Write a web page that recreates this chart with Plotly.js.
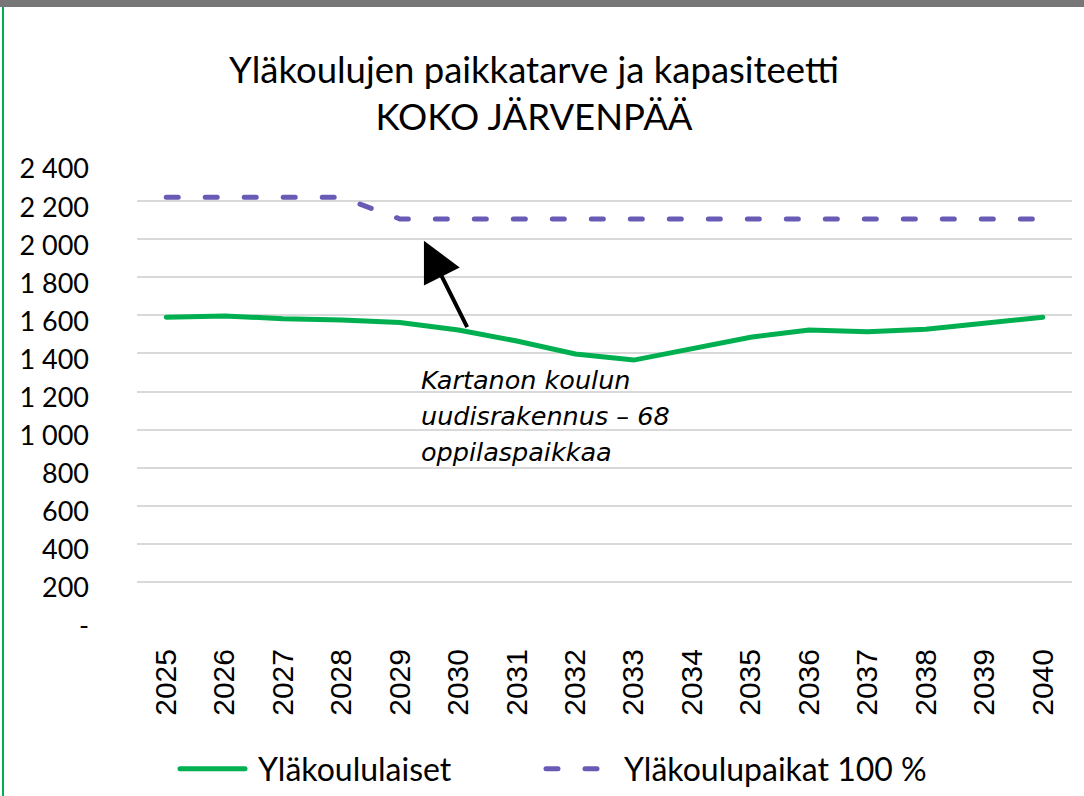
<!DOCTYPE html>
<html><head><meta charset="utf-8">
<script src="https://cdn.plot.ly/plotly-3.0.1.min.js"></script>
<style>
html,body{margin:0;padding:0;background:#fff;overflow:hidden}
#topbar{position:absolute;left:0;top:0;width:1084px;height:7px;background:#777777;z-index:5}
#leftline{position:absolute;left:2px;top:7px;width:2px;height:789px;background:#00B050;z-index:5}
#chart{position:absolute;left:0;top:0;width:1084px;height:796px}
.js-line{stroke-linecap:round}
.legend .legendtext{transform:translate(8px,0)}
.legend .scrollbox{clip-path:none !important}
</style></head>
<body><div id="topbar"></div><div id="leftline"></div><div id="chart"></div>
<script>
const years = ['2025','2026','2027','2028','2029','2030','2031','2032','2033','2034','2035','2036','2037','2038','2039','2040'];
const pupils = [1590,1597,1582,1576,1562,1523,1465,1397,1365,1423,1485,1523,1514,1527,1560,1590];
const places = [2220,2220,2220,2220,2106,2106,2106,2106,2106,2106,2106,2106,2106,2106,2106,2106];
const yTickVals = [0,200,400,600,800,1000,1200,1400,1600,1800,2000,2200,2400];
const yTickText = ['-','200','400','600','800','1 000','1 200','1 400','1 600','1 800','2 000','2 200','2 400'];
const noteLines = ['Kartanon koulun','uudisrakennus – 68','oppilaspaikkaa'];

const traces = [
  {x: years, y: pupils, type:'scatter', mode:'lines', name:'Yläkoululaiset',
   line:{color:'#00B050', width:5}},
  {x: years, y: places, type:'scatter', mode:'lines', name:'Yläkoulupaikat 100 %',
   line:{color:'#675BB5', width:5, dash:'12px,27px'}}
];

const noteY = [380, 416, 452];
const annotations = noteLines.map((t,i)=>({
  text:t, xref:'paper', yref:'paper', x:(419-137)/935, y:(620-noteY[i])/457,
  xanchor:'left', yanchor:'middle', showarrow:false,
  font:{family:'DejaVu Sans', size:25.5, color:'#000', style:'italic'}
}));
annotations.push({
  text:'', x:4.41, y:1992, xref:'x', yref:'y', showarrow:true,
  ax:44, ay:88, axref:'pixel', ayref:'pixel',
  arrowhead:2, arrowsize:2, arrowwidth:4, arrowcolor:'#000', standoff:0
});

const layout = {
  width:1084, height:796,
  paper_bgcolor:'#fff', plot_bgcolor:'#fff',
  margin:{l:137, r:12, t:163, b:176},
  title:{text:'Yläkoulujen paikkatarve ja kapasiteetti<br>KOKO JÄRVENPÄÄ',
    x:534/1084, xanchor:'center', xref:'container', y:1-83/796, yanchor:'top', yref:'container',
    font:{family:'Lato', size:36.5, color:'#000'}},
  xaxis:{type:'category', range:[-0.5,15.5], showgrid:false, zeroline:false, showline:false,
    ticks:'', tickangle:-90, ticklabelstandoff:22, automargin:false,
    tickfont:{family:'Liberation Sans', size:30, color:'#000'}},
  yaxis:{range:[0,2400], tickvals:yTickVals, ticktext:yTickText, showgrid:true,
    gridcolor:'#d9d9d9', gridwidth:2, zeroline:false, showline:false, ticks:'',
    ticklabelstandoff:47, ticklabelshift:6, automargin:false,
    tickfont:{family:'Lato', size:27, color:'#000'}},
  showlegend:true,
  legend:{orientation:'h', xref:'container', yref:'container', x:175/1084, xanchor:'left',
    y:1-769/796, yanchor:'middle',
    font:{family:'Lato', size:32, color:'#000'}, itemwidth:65, entrywidth:286, bgcolor:'rgba(0,0,0,0)'},
  annotations: annotations
};
Plotly.newPlot('chart', traces, layout, {displayModeBar:false, staticPlot:true});
</script>
</body></html>
